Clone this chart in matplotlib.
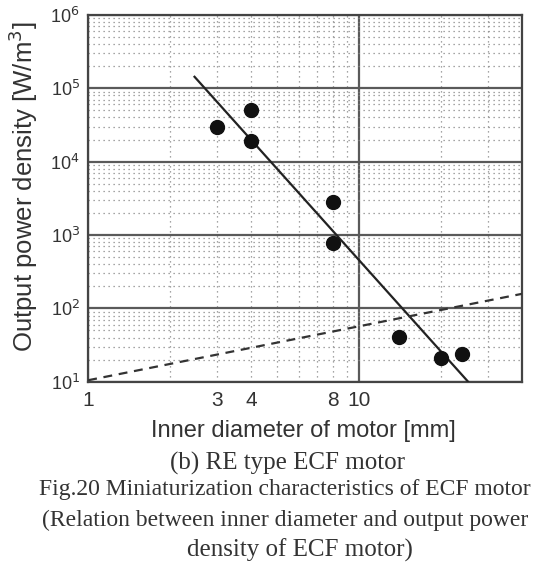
import numpy as np
import matplotlib
matplotlib.use("Agg")
import matplotlib.pyplot as plt
from matplotlib.ticker import LogLocator, FixedLocator, NullFormatter

# measured motors: inner diameter [mm] vs output power density [W/m3]
diameter = [3.0, 4.0, 4.0, 8.0, 8.0, 14.0, 20.0, 24.0]
density = [3.0e4, 5.1e4, 1.9e4, 2.8e3, 7.8e2, 41.0, 21.0, 24.0]

# fitted trend (solid) and the other estimate (dashed), end points
fit_x = [2.47, 25.3]
fit_y = [1.43e5, 10.0]
dash_x = [1.0, 40.0]
dash_y = [10.5, 158.0]

xticks = [1, 3, 4, 8, 10]
xtick_labels = ["1", "3", "4", "8", "10"]
yticks = [1e1, 1e2, 1e3, 1e4, 1e5, 1e6]
ytick_labels = ["10$^{1}$", "10$^{2}$", "10$^{3}$", "10$^{4}$", "10$^{5}$", "10$^{6}$"]

plt.rcParams['font.family'] = ['Liberation Sans', 'DejaVu Sans']

fig = plt.figure(figsize=(5.41, 5.69), dpi=100)
ax = fig.add_axes([0.163, 0.329, 0.802, 0.645])

ax.set_xscale('log')
ax.set_yscale('log')
ax.set_xlim(1, 40)
ax.set_ylim(1e1, 1e6)

# grid: solid decades, dotted minor lines
ax.xaxis.set_major_locator(FixedLocator([1, 10]))
ax.xaxis.set_minor_locator(LogLocator(base=10, subs=np.arange(2, 10)))
ax.yaxis.set_major_locator(FixedLocator(yticks))
ax.yaxis.set_minor_locator(LogLocator(base=10, subs=np.arange(2, 10)))
ax.xaxis.set_minor_formatter(NullFormatter())
ax.yaxis.set_minor_formatter(NullFormatter())
ax.grid(which='major', color='#5a5a5a', linewidth=1.6)
ax.grid(which='minor', color='#888888', linewidth=0.9, linestyle=(0, (1, 3)))

ax.plot(fit_x, fit_y, color='#222222', linewidth=1.6, zorder=3)
ax.plot(dash_x, dash_y, color='#333333', linewidth=1.6, linestyle=(0, (4, 3)), zorder=3)
ax.plot(diameter, density, 'o', color='#111111', markersize=10, zorder=4)

# only a few x tick labels, drawn as text
for x, lab in zip(xticks, xtick_labels):
    ax.text(x, 10 ** 0.75, lab, ha='center', va='center', fontsize=15, color='#333333',
            transform=ax.transData, clip_on=False)
ax.set_xticklabels([])
ax.set_yticklabels(ytick_labels, fontsize=13, color='#333333')
ax.tick_params(which='both', length=0, pad=6)

for s in ax.spines.values():
    s.set_color('#444444')
    s.set_linewidth(1.6)

ax.set_ylabel('Output power density [W/m$^3$]', fontsize=18.5, color='#333333')
ax.yaxis.set_label_coords(-0.112, 0.53)
fig.text(0.56, 0.243, 'Inner diameter of motor [mm]', ha='center', va='center',
         fontsize=17, color='#333333')

serif = ['Liberation Serif', 'DejaVu Serif']
fig.text(0.531, 0.186, '(b) RE type ECF motor', ha='center', va='center',
         fontsize=18, color='#333333', family=serif)
fig.text(0.527, 0.139, 'Fig.20 Miniaturization characteristics of ECF motor', ha='center',
         va='center', fontsize=17, color='#333333', family=serif)
fig.text(0.527, 0.086, '(Relation between inner diameter and output power', ha='center',
         va='center', fontsize=17, color='#333333', family=serif)
fig.text(0.555, 0.033, 'density of ECF motor)', ha='center', va='center',
         fontsize=18, color='#333333', family=serif)

fig.savefig('out.png', dpi=100)
